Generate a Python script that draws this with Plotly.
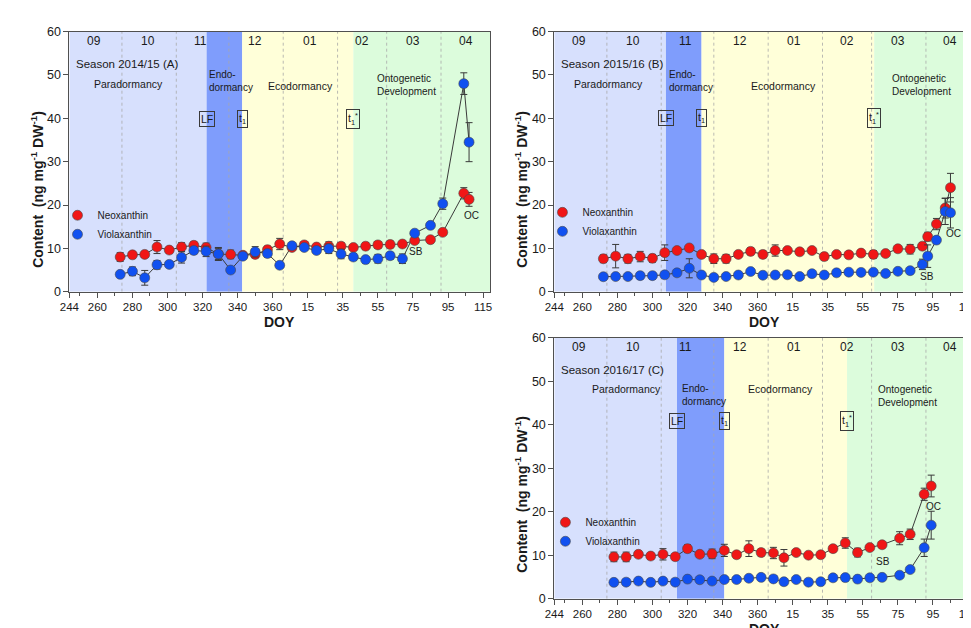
import plotly.graph_objects as go

# ---------------- data (DOY; values after 365 continue as 365+DOY) ----------------
doy_a = [273, 280, 287, 294, 301, 308, 315, 322, 329, 336, 343, 350, 357, 364, 371, 378, 385,
         392, 399, 406, 413, 420, 427, 434, 441, 450, 457, 469, 472]
neo_a = [8.0, 8.5, 8.6, 10.3, 9.6, 10.3, 10.7, 10.2, 8.7, 8.6, 8.4, 8.6, 9.7, 11.0, 10.2, 10.8, 10.3,
         10.5, 10.5, 10.2, 10.5, 10.8, 10.9, 11.0, 11.8, 12.0, 13.7, 22.7, 21.3]
neo_a_err = [1.0, 0.5, 0.7, 1.5, 0.6, 1.0, 0.8, 1.0, 1.3, 1.0, 0.7, 0.8, 0.8, 1.3, 0.5, 0.5, 0.6,
             1.0, 0.8, 0.6, 0.8, 0.8, 0.8, 0.6, 0.6, 0.6, 0.6, 1.3, 1.6]
vio_a = [4.0, 4.7, 3.2, 6.2, 6.3, 7.9, 9.5, 9.3, 8.7, 5.0, 8.2, 9.2, 8.8, 6.1, 10.6, 10.2, 9.5,
         9.9, 8.7, 8.0, 7.4, 7.6, 8.3, 7.6, 13.5, 15.3, 20.3, 48.0, 34.5]
vio_a_err = [0.5, 1.0, 1.7, 1.0, 0.5, 1.3, 0.8, 1.2, 1.5, 0.6, 0.6, 1.2, 0.8, 0.5, 0.6, 0.5, 0.6,
             1.1, 1.1, 0.8, 0.7, 1.0, 0.8, 1.1, 0.6, 0.7, 1.3, 2.5, 4.5]

doy_b = [272, 279, 286, 293, 300, 307, 314, 321, 328, 335, 342, 349, 356, 363, 370, 377, 384, 391,
         398, 405, 412, 419, 426, 433, 440, 447, 454, 457, 462, 467, 470]
neo_b = [7.6, 8.2, 7.6, 8.1, 7.7, 9.0, 9.5, 10.1, 8.6, 7.6, 7.6, 8.6, 9.3, 8.6, 9.5, 9.5, 9.2, 9.5,
         8.1, 8.6, 8.5, 8.9, 8.6, 8.8, 9.9, 9.8, 10.5, 12.7, 15.6, 19.3, 24.0]
neo_b_err = [0.9, 2.7, 1.0, 1.2, 0.9, 1.8, 0.5, 0.5, 0.6, 1.1, 1.0, 0.7, 0.8, 0.8, 1.3, 0.5, 0.5, 0.5,
             0.8, 0.5, 0.5, 0.5, 0.9, 0.6, 0.5, 1.1, 0.8, 1.0, 1.3, 2.3, 3.3]
vio_b = [3.45, 3.5, 3.5, 3.7, 3.7, 3.9, 4.35, 5.4, 3.85, 3.3, 3.5, 3.85, 4.65, 3.8, 3.85, 3.9, 3.5, 4.15,
         3.85, 4.35, 4.5, 4.45, 4.5, 4.2, 4.7, 4.85, 6.3, 8.2, 11.9, 18.5, 18.2]
vio_b_err = [0.3, 0.3, 0.3, 0.3, 0.3, 0.3, 0.3, 2.2, 0.3, 0.3, 0.3, 0.3, 0.3, 0.3, 0.3, 0.3, 0.3, 0.3,
             0.3, 0.3, 0.3, 0.3, 0.5, 0.3, 0.3, 0.3, 1.2, 2.6, 0.8, 3.0, 3.5]

doy_c = [278, 285, 292, 299, 306, 313, 320, 327, 334, 341, 348, 355, 362, 369, 375, 382, 389, 396,
         403, 410, 417, 424, 431, 441, 447, 455, 459]
neo_c = [9.6, 9.6, 10.2, 9.8, 10.2, 9.65, 11.5, 10.2, 10.3, 11.1, 10.1, 11.5, 10.6, 10.5, 9.4, 10.6,
         10.0, 10.1, 11.5, 12.8, 10.6, 11.75, 12.4, 13.9, 14.8, 24.0, 25.9]
neo_c_err = [1.1, 1.1, 0.7, 0.7, 1.3, 0.5, 0.9, 0.6, 1.1, 1.4, 0.6, 1.8, 0.8, 1.3, 1.9, 0.6,
             0.5, 0.5, 0.6, 1.2, 1.0, 0.5, 0.6, 1.5, 1.2, 1.4, 2.5]
vio_c = [3.75, 3.8, 4.05, 3.75, 4.05, 3.8, 4.5, 4.35, 4.05, 4.4, 4.4, 4.7, 4.9, 4.55, 3.9, 4.4,
         3.8, 3.9, 4.8, 4.85, 4.5, 4.8, 4.9, 5.4, 6.7, 11.7, 16.9]
vio_c_err = [0.3, 0.3, 0.3, 0.3, 0.3, 0.3, 0.3, 0.3, 0.3, 0.3, 0.3, 0.3, 0.3, 0.3, 0.3, 0.3,
             0.3, 0.3, 0.3, 0.3, 0.3, 0.3, 0.3, 0.7, 0.4, 2.0, 3.2]

# phase boundaries (DOY): leaf fall, t1, t1*
phase_a = [322.3, 342.6, 406.0]
phase_b = [307.7, 328.0, 426.5]
phase_c = [314.0, 341.0, 411.0]

xtick_vals = [244, 260, 280, 300, 320, 340, 360, 380, 400, 420, 440, 460, 480]
xtick_text = ["244", "260", "280", "300", "320", "340", "360", "15", "35", "55", "75", "95", "115"]
xminor_vals = [250, 270, 290, 310, 330, 350, 370, 390, 410, 430, 450, 470]
ytick_vals = [0, 10, 20, 30, 40, 50, 60]
month_starts = [274, 305, 335, 366, 397, 425, 456]
month_labels = ["09", "10", "11", "12", "01", "02", "03", "04"]
month_centers = [258, 289, 319, 350, 381, 411, 440, 470]
seasons = ["Season 2014/15 (A)", "Season 2015/16 (B)", "Season 2016/17 (C)"]

# ---------------- style ----------------
FONT = "Liberation Sans, Arial, Helvetica, sans-serif"
TXT = "#1a1a1a"
AX = "#505050"
RED = "#f01616"
BLUE = "#1050f0"
LINEC = "#3a3a3a"
PARA = "#d7e0fd"
ENDO = "#7f9dfc"
ECO = "#ffffd9"
ONTO = "#dcfcdc"
W, H = 971, 628

panels = [
    dict(xa="x", ya="y", leg="legend", doy=doy_a, neo=neo_a, ne=neo_a_err, vio=vio_a, ve=vio_a_err,
         ph=phase_a, season=seasons[0], xdom=[52 / W, 478 / W], ydom=[(H - 283) / H, (H - 17) / H],
         para_x=278, eco_x=375.6, onto_x=418.6, endo_x=322.8,
         lab_y=[48.0, 48.6, 47.4, 47.6], box_y=39.8, sb=(442, 9.3), oc=(473.5, 17.6),
         ytitle=(19 / W, (H - 178) / H), doy_y=314, leg_pos=(40 / W, (H - 190) / H)),
    dict(xa="x2", ya="y2", leg="legend2", doy=doy_b, neo=neo_b, ne=neo_b_err, vio=vio_b, ve=vio_b_err,
         ph=phase_b, season=seasons[1], xdom=[543 / W, 969 / W], ydom=[(H - 283) / H, (H - 17) / H],
         para_x=275.2, eco_x=375.0, onto_x=435.5, endo_x=308.2,
         lab_y=[48.0, 48.6, 47.4, 47.6], box_y=40.0, sb=(456.4, 3.6), oc=(471.5, 13.4),
         ytitle=(509 / W, (H - 178) / H), doy_y=314, leg_pos=(531 / W, (H - 187) / H)),
    dict(xa="x3", ya="y3", leg="legend3", doy=doy_c, neo=neo_c, ne=neo_c_err, vio=vio_c, ve=vio_c_err,
         ph=phase_c, season=seasons[2], xdom=[543 / W, 969 / W], ydom=[(H - 597) / H, (H - 330) / H],
         para_x=285.0, eco_x=372.8, onto_x=427.7, endo_x=315.5,
         lab_y=[48.1, 46.8, 48.1, 46.7], box_y=40.8, sb=(431.6, 8.5), oc=(460.3, 21.2),
         ytitle=(509 / W, (H - 490) / H), doy_y=628, leg_pos=(534 / W, (H - 504) / H)),
]

fig = go.Figure()
shapes = []
annotations = []
layout_axes = {}

for i, p in enumerate(panels):
    xa, ya = p["xa"], p["ya"]
    # connecting lines (dark grey)
    for vals in (p["neo"], p["vio"]):
        fig.add_trace(go.Scatter(x=p["doy"], y=vals, mode="lines", xaxis=xa, yaxis=ya,
                                 line=dict(color=LINEC, width=1), showlegend=False, hoverinfo="skip"))
    # markers with error bars
    for name, vals, errs, col in (("Neoxanthin", p["neo"], p["ne"], RED),
                                  ("Violaxanthin", p["vio"], p["ve"], BLUE)):
        fig.add_trace(go.Scatter(
            x=p["doy"], y=vals, mode="markers", name=name, xaxis=xa, yaxis=ya, legend=p["leg"],
            marker=dict(color=col, size=10, line=dict(color="#4a4a4a", width=0.6)),
            error_y=dict(type="data", array=errs, color=LINEC, thickness=1, width=3.5)))

    lf, t1, t1s = p["ph"]
    ax_id = xa.replace("x", "")
    xref, yref = xa, ya
    for x0, x1, c in ((244, lf, PARA), (lf, t1, ENDO), (t1, t1s, ECO), (t1s, 484, ONTO)):
        shapes.append(dict(type="rect", xref=xref, yref=yref, x0=x0, x1=x1, y0=0, y1=60,
                           fillcolor=c, line=dict(width=0), layer="below"))
    for m in month_starts:
        shapes.append(dict(type="line", xref=xref, yref=yref, x0=m, x1=m, y0=0, y1=60,
                           line=dict(color="#a8a8a8", width=0.8, dash="dot"), layer="below"))

    def ann(text, x, y, size=10.5, xanchor="center", **kw):
        d = dict(text=text, x=x, y=y, xref=xref, yref=yref, showarrow=False, xanchor=xanchor,
                 yanchor="middle", font=dict(family=FONT, size=size, color=TXT))
        d.update(kw)
        annotations.append(d)

    for lab, xc in zip(month_labels, month_centers):
        ann(lab, xc, 57.9, size=12)
    ann(p["season"], 246.8, 52.5, size=11.5, xanchor="left")
    ly = p["lab_y"]
    ann("Paradormancy", p["para_x"], ly[0])
    ann("Endo-<br>dormancy", p["endo_x"], ly[1], size=10, xanchor="left", align="left")
    ann("Ecodormancy", p["eco_x"], ly[2])
    ann("Ontogenetic<br>Development", p["onto_x"], ly[3], size=10, xanchor="left", align="left")
    box = dict(bordercolor="#3a3a3a", borderwidth=1, borderpad=1)
    ann("LF", lf, p["box_y"], **box)
    ann("t<sub>1</sub>", t1, p["box_y"], **box)
    ann("t<sub>1</sub><sup>*</sup>", t1s, p["box_y"], **box)
    ann("SB", p["sb"][0], p["sb"][1], size=10)
    ann("OC", p["oc"][0], p["oc"][1], size=10)

    # axis titles
    annotations.append(dict(text="<b>Content  (ng mg<sup>-1</sup> DW<sup>-1</sup>)</b>",
                            x=p["ytitle"][0], y=p["ytitle"][1], xref="paper", yref="paper",
                            textangle=-90, showarrow=False, xanchor="center", yanchor="middle",
                            font=dict(family=FONT, size=14, color=TXT)))
    annotations.append(dict(text="<b>DOY</b>", x=(p["xdom"][0] + p["xdom"][1]) / 2,
                            y=(H - p["doy_y"]) / H, xref="paper", yref="paper", showarrow=False,
                            xanchor="center", yanchor="middle",
                            font=dict(family=FONT, size=14, color=TXT)))

    xkey = "xaxis" + ax_id
    ykey = "yaxis" + ax_id
    layout_axes[xkey] = dict(
        domain=p["xdom"], anchor=ya, range=[244, 484], tickvals=xtick_vals, ticktext=xtick_text,
        ticks="outside", ticklen=5, tickcolor=AX, showline=True, linecolor=AX, linewidth=1,
        mirror=True, showgrid=False, zeroline=False,
        tickfont=dict(family=FONT, size=11.5, color=TXT),
        minor=dict(tickvals=xminor_vals, ticks="outside", ticklen=3, tickcolor=AX))
    layout_axes[ykey] = dict(
        domain=p["ydom"], anchor=xa, range=[0, 60], tickvals=ytick_vals,
        ticks="outside", ticklen=5, tickcolor=AX, showline=True, linecolor=AX, linewidth=1,
        mirror=True, showgrid=False, zeroline=False,
        tickfont=dict(family=FONT, size=12.5, color=TXT))
    layout_axes[p["leg"]] = dict(x=p["leg_pos"][0], y=p["leg_pos"][1], xanchor="left", yanchor="top",
                                 bgcolor="rgba(0,0,0,0)", borderwidth=0,
                                 font=dict(family=FONT, size=10, color=TXT), tracegroupgap=0,
                                 itemwidth=30)

fig.update_layout(width=W, height=H, margin=dict(l=0, r=0, t=0, b=0),
                  paper_bgcolor="white", plot_bgcolor="white",
                  font=dict(family=FONT, color=TXT), shapes=shapes, annotations=annotations,
                  **layout_axes)

fig.write_html("out.html")
